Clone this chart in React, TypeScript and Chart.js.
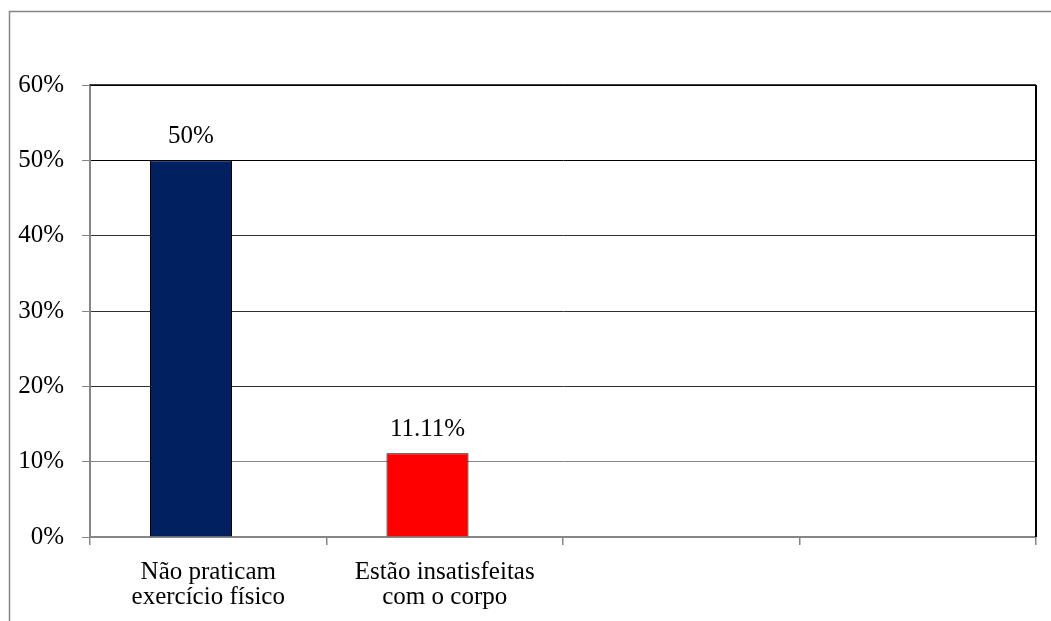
import React, { useEffect, useRef } from "react";
import { Chart, registerables } from "chart.js";

Chart.register(...registerables);

const categories: (string | string[])[] = [
  ["Não praticam", "exercício físico"],
  ["Estão insatisfeitas", "com o corpo"],
  "",
  "",
];
const seriesValues: (number | null)[] = [50, 11.11, null, null];
const emptySeries: (number | null)[] = [null, null, null, null];
const barColors = ["#002060", "#FF0000"];
const yTicks = { min: 0, max: 60, step: 10 };

const FONT = "'Liberation Serif', 'Times New Roman', serif";

const frame = {
  id: "frame",
  afterDraw(chart: any) {
    const { ctx, chartArea, width, height } = chart;
    ctx.save();
    // outer chart border (left & top visible)
    ctx.strokeStyle = "#868686";
    ctx.lineWidth = 1.5;
    ctx.beginPath();
    ctx.moveTo(9.5, height + 5);
    ctx.lineTo(9.5, 11.5);
    ctx.lineTo(width + 5, 11.5);
    ctx.stroke();
    // plot area top & right
    ctx.strokeStyle = "#000";
    ctx.lineWidth = 1.5;
    ctx.beginPath();
    ctx.moveTo(chartArea.left, chartArea.top);
    ctx.lineTo(chartArea.right, chartArea.top);
    ctx.stroke();
    ctx.lineWidth = 2;
    ctx.beginPath();
    ctx.moveTo(chartArea.right, chartArea.top);
    ctx.lineTo(chartArea.right, chartArea.bottom);
    ctx.stroke();
    ctx.restore();
  },
};

const valueLabels = {
  id: "valueLabels",
  afterDatasetsDraw(chart: any) {
    const { ctx } = chart;
    const meta = chart.getDatasetMeta(0);
    const data = chart.data.datasets[0].data;
    ctx.save();
    ctx.font = `25px ${FONT}`;
    ctx.fillStyle = "#000";
    ctx.textAlign = "center";
    ctx.textBaseline = "alphabetic";
    meta.data.forEach((bar: any, i: number) => {
      const v = data[i];
      if (v === null || v === undefined) return;
      ctx.fillText(`${v}%`, bar.x, bar.y - 17);
    });
    ctx.restore();
  },
};

export default function App() {
  const ref = useRef<HTMLCanvasElement>(null);

  useEffect(() => {
    if (!ref.current) return;
    const chart = new Chart(ref.current, {
      type: "bar",
      data: {
        labels: categories,
        datasets: [
          {
            data: seriesValues,
            backgroundColor: barColors,
            borderColor: "#000",
            borderWidth: 1,
            categoryPercentage: 0.2918,
            barPercentage: 2.377,
          },
          {
            data: emptySeries,
            backgroundColor: "#7f7f7f",
            borderWidth: 0,
            categoryPercentage: 0.2918,
            barPercentage: 2.377,
          },
        ],
      },
      options: {
        responsive: false,
        animation: false,
        layout: { padding: { left: 0, top: 85, right: 15, bottom: 0 } },
        plugins: {
          legend: { display: false },
          tooltip: { enabled: false },
        },
        scales: {
          x: {
            grid: {
              offset: true,
              drawOnChartArea: false,
              drawTicks: true,
              tickLength: 8,
              color: "#868686",
              lineWidth: 1.5,
            },
            border: { color: "#868686", width: 2 },
            ticks: {
              color: "#000",
              font: { family: FONT, size: 25, lineHeight: 1.0 },
              padding: 15,
              maxRotation: 0,
              autoSkip: false,
            },
            afterFit(scale: any) {
              scale.height = 84;
            },
          },
          y: {
            min: yTicks.min,
            max: yTicks.max,
            grid: {
              color: (c: any) => {
                const v = c.tick?.value;
                if (v === 50 || v === 60) return "#000";
                if (v === 10 || v === 0) return "#868686";
                return "#303030";
              },
              lineWidth: 1,
              tickLength: 8,
              tickColor: "#868686",
            },
            border: { color: "#868686", width: 2 },
            ticks: {
              stepSize: yTicks.step,
              color: "#000",
              font: { family: FONT, size: 25 },
              padding: 18,
              callback: (v: any) => `${v}%`,
            },
            afterFit(scale: any) {
              scale.width = 90;
            },
          },
        },
      },
      plugins: [frame, valueLabels],
    });
    return () => chart.destroy();
  }, []);

  return (
    <div style={{ position: "fixed", left: 0, top: 0, width: 1051, height: 621, background: "#fff" }}>
      <canvas ref={ref} width={1051} height={621} style={{ display: "block" }} />
    </div>
  );
}
